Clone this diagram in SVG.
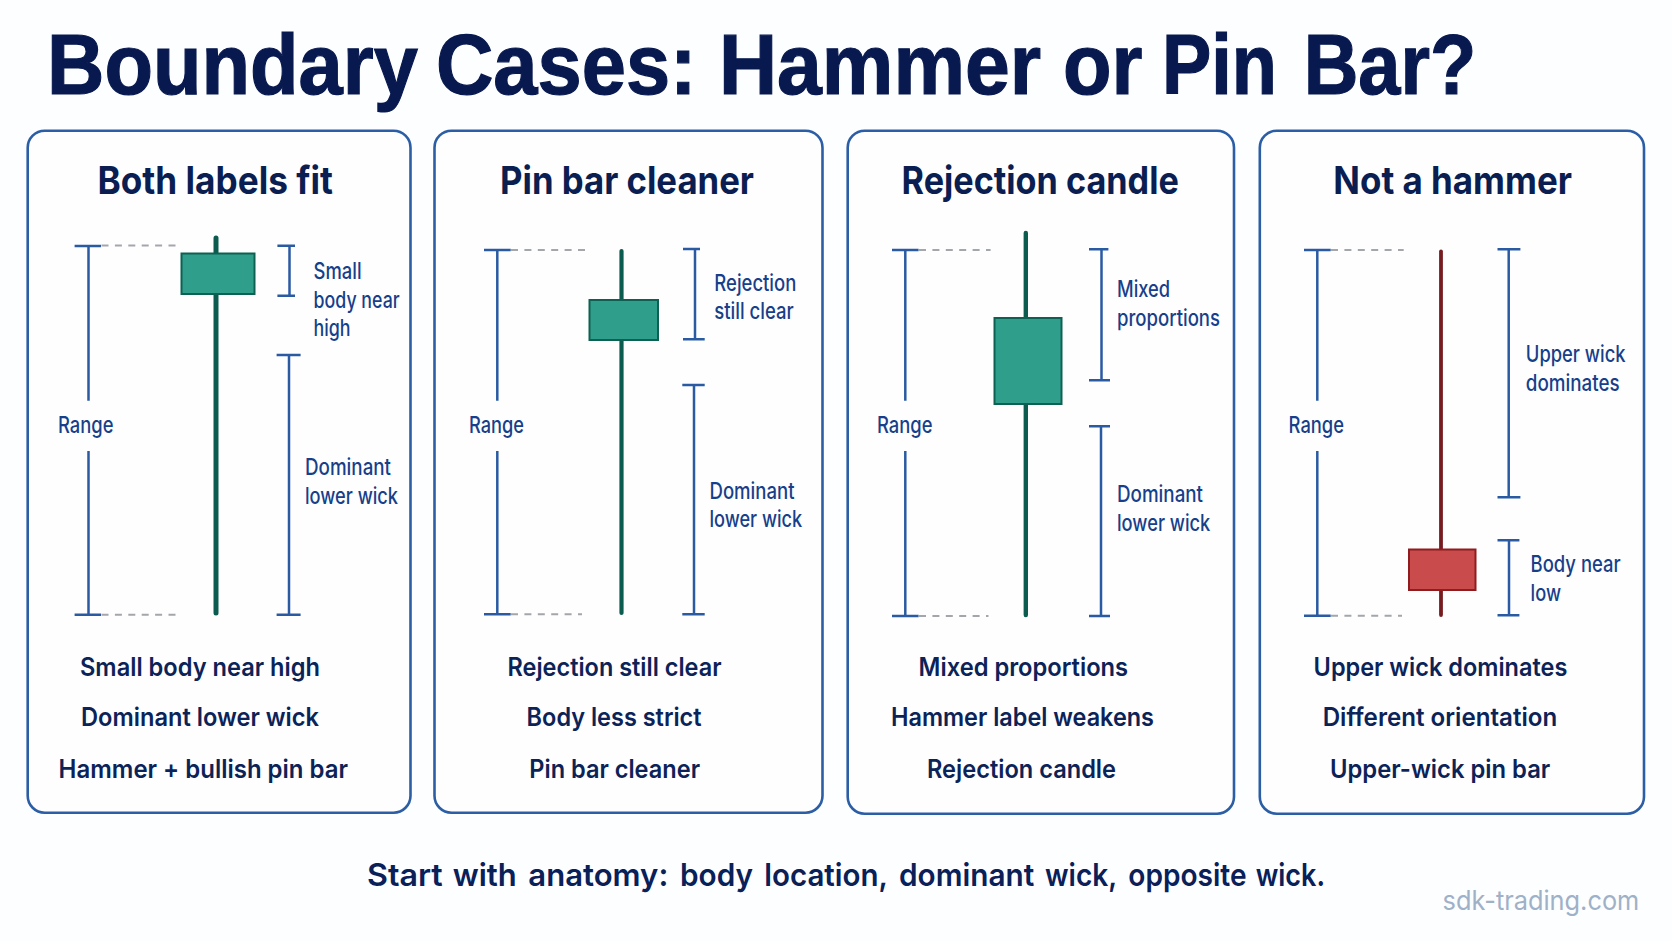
<svg xmlns="http://www.w3.org/2000/svg" width="1672" height="941" viewBox="0 0 1672 941">
<style>
text{font-family:"Inter","Liberation Sans",sans-serif}
.hd{font-family:"Liberation Sans",Arial,sans-serif;font-size:85px;font-weight:700;fill:#08194f;stroke:#08194f;stroke-width:1.2}
.card{fill:#fefeff;stroke:#2c5ea5;stroke-width:2.6}
.t{font-size:38.5px;font-weight:700;fill:#0a1e52}
.l{font-size:22.5px;font-weight:500;fill:#173f8a}
.b{font-size:25.5px;font-weight:600;fill:#0c2358}
.ft{font-size:31.5px;font-weight:600;fill:#0a2059}
.wm{font-size:27px;font-weight:400;fill:#9fb1c7}
.br{fill:none;stroke:#2a5aa2;stroke-width:2.5}
.rg{fill:none;stroke:#2a5aa2;stroke-width:2.5}
.da{fill:none;stroke:#a3a6ab;stroke-width:2;stroke-dasharray:7 6.4}
.gw{stroke:#0b5c4f;stroke-linecap:round;fill:none}
.gb{fill:#2f9f8b;stroke:#0e6052;stroke-width:2}
.rw{stroke:#761c21;stroke-linecap:round;fill:none}
.rb{fill:#c94b4b;stroke:#8f1c1f;stroke-width:2}
</style>
<rect width="1672" height="941" fill="#fdfeff"/>
<text id="title" class="hd" transform="translate(47 93.5) scale(.935 1)" y="0"><tspan x="0">Boundary</tspan> <tspan x="416">Cases:</tspan> <tspan x="718.7" textLength="344.4" lengthAdjust="spacingAndGlyphs">Hammer</tspan> <tspan x="1086.6">or</tspan> <tspan x="1192.5" textLength="123" lengthAdjust="spacingAndGlyphs">Pin</tspan> <tspan x="1344" textLength="184.7" lengthAdjust="spacingAndGlyphs">Bar?</tspan></text>

<g id="panel-1">
<rect class="card" x="27.7" y="130.7" width="382.8" height="682" rx="17"/>
<text class="t" x="97.5" y="193.5" textLength="235.5" lengthAdjust="spacingAndGlyphs">Both labels fit</text>
<line class="gw" x1="216" y1="238" x2="216" y2="613" stroke-width="5"/>
<rect class="gb" x="181.5" y="253.5" width="73" height="40.5"/>
<text class="l" x="58" y="432.5" textLength="55.5" lengthAdjust="spacingAndGlyphs">Range</text>
<text class="l" x="313.6" y="279" textLength="48" lengthAdjust="spacingAndGlyphs">Small</text>
<text class="l" x="313.6" y="308" textLength="86" lengthAdjust="spacingAndGlyphs">body near</text>
<text class="l" x="313.6" y="335.5" textLength="37" lengthAdjust="spacingAndGlyphs">high</text>
<text class="l" x="305" y="475" textLength="86" lengthAdjust="spacingAndGlyphs">Dominant</text>
<text class="l" x="305" y="503.5" textLength="93" lengthAdjust="spacingAndGlyphs">lower wick</text>
<text class="b" x="80" y="675.5" textLength="240" lengthAdjust="spacingAndGlyphs">Small body near high</text>
<text class="b" x="81" y="726" textLength="238" lengthAdjust="spacingAndGlyphs">Dominant lower wick</text>
<text class="b" x="58.6" y="777.5" textLength="289.4" lengthAdjust="spacingAndGlyphs">Hammer + bullish pin bar</text>
</g>

<g id="panel-2">
<rect class="card" x="434.5" y="130.7" width="388" height="682" rx="17"/>
<text class="t" x="500" y="193.5" textLength="254" lengthAdjust="spacingAndGlyphs">Pin bar cleaner</text>
<line class="gw" x1="621.5" y1="251" x2="621.5" y2="613" stroke-width="4.2"/>
<rect class="gb" x="589.5" y="300" width="68.5" height="40"/>
<text class="l" x="469" y="432.5" textLength="55" lengthAdjust="spacingAndGlyphs">Range</text>
<text class="l" x="714.3" y="290.5" textLength="82" lengthAdjust="spacingAndGlyphs">Rejection</text>
<text class="l" x="714.3" y="318.8" textLength="79.4" lengthAdjust="spacingAndGlyphs">still clear</text>
<text class="l" x="709.5" y="498.8" textLength="85" lengthAdjust="spacingAndGlyphs">Dominant</text>
<text class="l" x="709.5" y="527.2" textLength="92.7" lengthAdjust="spacingAndGlyphs">lower wick</text>
<text class="b" x="507.5" y="675.5" textLength="214" lengthAdjust="spacingAndGlyphs">Rejection still clear</text>
<text class="b" x="526.6" y="726" textLength="175" lengthAdjust="spacingAndGlyphs">Body less strict</text>
<text class="b" x="529.3" y="777.5" textLength="170.7" lengthAdjust="spacingAndGlyphs">Pin bar cleaner</text>
</g>

<g id="panel-3">
<rect class="card" x="847.7" y="130.7" width="386.3" height="683" rx="17"/>
<text class="t" x="901.6" y="193.5" textLength="277.2" lengthAdjust="spacingAndGlyphs">Rejection candle</text>
<line class="gw" x1="1025.8" y1="233" x2="1025.8" y2="615" stroke-width="4.4"/>
<rect class="gb" x="994.5" y="318" width="67" height="86"/>
<text class="l" x="877" y="432.5" textLength="55.5" lengthAdjust="spacingAndGlyphs">Range</text>
<text class="l" x="1117" y="296.5" textLength="53" lengthAdjust="spacingAndGlyphs">Mixed</text>
<text class="l" x="1117" y="325.5" textLength="103" lengthAdjust="spacingAndGlyphs">proportions</text>
<text class="l" x="1117" y="501.5" textLength="86" lengthAdjust="spacingAndGlyphs">Dominant</text>
<text class="l" x="1117" y="530.5" textLength="93.3" lengthAdjust="spacingAndGlyphs">lower wick</text>
<text class="b" x="918.6" y="675.5" textLength="209.5" lengthAdjust="spacingAndGlyphs">Mixed proportions</text>
<text class="b" x="891" y="726" textLength="263" lengthAdjust="spacingAndGlyphs">Hammer label weakens</text>
<text class="b" x="927" y="777.5" textLength="189" lengthAdjust="spacingAndGlyphs">Rejection candle</text>
</g>

<g id="panel-4">
<rect class="card" x="1259.8" y="130.7" width="384.2" height="683" rx="17"/>
<text class="t" x="1333.3" y="193.5" textLength="238.7" lengthAdjust="spacingAndGlyphs">Not a hammer</text>
<line class="rw" x1="1441" y1="251.5" x2="1441" y2="615" stroke-width="3.8"/>
<rect class="rb" x="1409" y="549.5" width="66.5" height="40.5"/>
<text class="l" x="1288.6" y="432.5" textLength="55.4" lengthAdjust="spacingAndGlyphs">Range</text>
<text class="l" x="1525.8" y="361.5" textLength="99.7" lengthAdjust="spacingAndGlyphs">Upper wick</text>
<text class="l" x="1525.8" y="390.5" textLength="93.8" lengthAdjust="spacingAndGlyphs">dominates</text>
<text class="l" x="1530.6" y="571.5" textLength="90" lengthAdjust="spacingAndGlyphs">Body near</text>
<text class="l" x="1530.6" y="600.5" textLength="30.4" lengthAdjust="spacingAndGlyphs">low</text>
<text class="b" x="1313.6" y="675.5" textLength="253.7" lengthAdjust="spacingAndGlyphs">Upper wick dominates</text>
<text class="b" x="1322.7" y="726" textLength="234.5" lengthAdjust="spacingAndGlyphs">Different orientation</text>
<text class="b" x="1330" y="777.5" textLength="220.3" lengthAdjust="spacingAndGlyphs">Upper-wick pin bar</text>
</g>

<g id="connectors">
<path class="rg" d="M74.6 246H101M88.5 246V400.7M88.5 451V614.7M74.6 614.7H101"/>
<path class="da" d="M101.5 245.5H180M101.5 614.7H180"/>
<path class="br" d="M277.4 245.7H295M289.5 245.7V295.7M277.4 295.7H295"/>
<path class="br" d="M276.6 355H300.6M289 355V614.7M276.6 614.7H300.6"/>

<path class="rg" d="M484 250H510.7M497.3 250V400.7M497.3 451V614.3M484 614.3H510.7"/>
<path class="da" d="M511 250H585M511 614.3H582"/>
<path class="br" d="M683 249H700M695 249V339.3M683 339.3H704.7"/>
<path class="br" d="M682.3 385H704.7M694 385V614.3M682.3 614.3H704.7"/>

<path class="rg" d="M892 250H918.6M905.3 250V400.7M905.3 451V616M892 616H918.6"/>
<path class="da" d="M919 250H990.6M919 616H988.5"/>
<path class="br" d="M1089 249.3H1108.4M1101.5 249.3V380.3M1089 380.3H1110"/>
<path class="br" d="M1089 426.3H1110M1101 426.3V616M1089 616H1110"/>

<path class="rg" d="M1304 250H1330.7M1317.3 250V400.7M1317.3 451V615.7M1304 615.7H1330.7"/>
<path class="da" d="M1331 250H1403.7M1331 615.7H1402"/>
<path class="br" d="M1497.5 249.3H1520.4M1508.7 249.3V497.3M1497.5 497.3H1520.4"/>
<path class="br" d="M1497.5 540.3H1519.4M1509 540.3V615.3M1497.5 615.3H1519.4"/>
</g>

<text id="footer" class="ft" y="885.5"><tspan x="367" textLength="75.7" lengthAdjust="spacingAndGlyphs">Start</tspan> <tspan x="452.7" textLength="64" lengthAdjust="spacingAndGlyphs">with</tspan> <tspan x="528.3" textLength="140" lengthAdjust="spacingAndGlyphs">anatomy:</tspan> <tspan x="680" textLength="73" lengthAdjust="spacingAndGlyphs">body</tspan> <tspan x="764.3" textLength="123" lengthAdjust="spacingAndGlyphs">location,</tspan> <tspan x="899" textLength="135.3" lengthAdjust="spacingAndGlyphs">dominant</tspan> <tspan x="1045" textLength="71.7" lengthAdjust="spacingAndGlyphs">wick,</tspan> <tspan x="1128.3" textLength="118.3" lengthAdjust="spacingAndGlyphs">opposite</tspan> <tspan x="1255.7" textLength="69.3" lengthAdjust="spacingAndGlyphs">wick.</tspan></text>
<text id="watermark" class="wm" x="1442.6" y="909.8" textLength="196.7" lengthAdjust="spacingAndGlyphs">sdk-trading.com</text>
</svg>
